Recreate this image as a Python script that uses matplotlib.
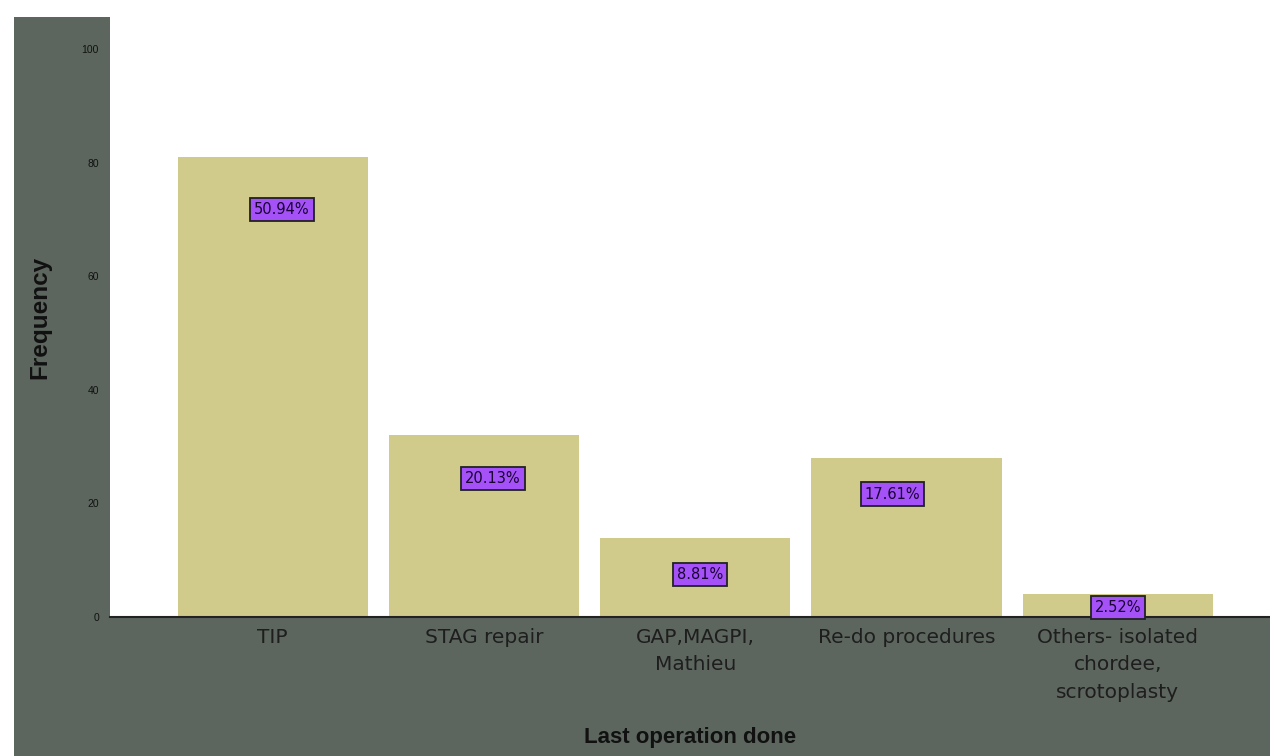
import matplotlib
matplotlib.use("Agg")
import matplotlib.pyplot as plt
from matplotlib.patches import Rectangle

categories = ["TIP", "STAG repair", "GAP,MAGPI,\nMathieu", "Re-do procedures",
              "Others- isolated\nchordee,\nscrotoplasty"]
frequencies = [81, 32, 14, 28, 4]
percent_labels = ["50.94%", "20.13%", "8.81%", "17.61%", "2.52%"]
y_ticks = [0, 20, 40, 60, 80, 100]

# label placement offsets relative to bar top, in pixels (style/position only)
label_drop_px = [52, 43, 37, 36, 13]
label_dx_px = [9, 9, 5, -14, 0]

W, H = 1270, 756
fig = plt.figure(figsize=(W / 100, H / 100), dpi=100, facecolor="white")
plt.rcParams['font.family'] = ['Liberation Sans', 'DejaVu Sans']

gray = "#5c665e"
fig.patches.append(Rectangle((14 / W, 0), 1, (H - 17) / H, transform=fig.transFigure,
                             facecolor=gray, edgecolor="none", zorder=-5))

ax = fig.add_axes([110 / W, (H - 617) / H, (W - 110) / W, (617 - 17) / H])
ax.set_zorder(2)
ax.set_facecolor("white")
x = list(range(len(categories)))
ax.bar(x, frequencies, width=0.9, color="#d0cb8b", edgecolor="none", zorder=2)

ax.set_xlim(-0.77, 4.72)
ax.set_ylim(0, 105.7)
ax.set_yticks(y_ticks)
ax.set_yticklabels([str(t) for t in y_ticks], fontsize=7.5, color="#111111")
ax.set_xticks(x)
ax.set_xticklabels(categories, fontsize=14.5, color="#1e1e1e", linespacing=1.55,
                   family="DejaVu Sans")
ax.tick_params(axis="x", length=0, pad=8)
ax.tick_params(axis="y", length=0, pad=8)

for side in ["top", "right", "left"]:
    ax.spines[side].set_visible(False)
ax.spines["bottom"].set_color("#222222")
ax.spines["bottom"].set_linewidth(1.5)

for xi, v, lab, d, dx in zip(x, frequencies, percent_labels, label_drop_px, label_dx_px):
    ax.annotate(lab, xy=(xi, v), xytext=(dx * 0.72, -d * 0.72), textcoords="offset points",
                ha="center", va="center", fontsize=10.5, color="#1a0033", zorder=4,
                family="DejaVu Sans",
                bbox=dict(boxstyle="square,pad=0.28", facecolor="#a452f7",
                          edgecolor="#222222", linewidth=1.3))

fig.text(690 / W, 1 - 738 / H, "Last operation done", ha="center", va="center",
         fontsize=16, fontweight="bold", color="#111111")
fig.text(40 / W, 1 - 317 / H, "Frequency", ha="center", va="center", rotation=90,
         fontsize=17.5, fontweight="bold", color="#111111")

fig.savefig("out.png", dpi=100, facecolor=fig.get_facecolor())
